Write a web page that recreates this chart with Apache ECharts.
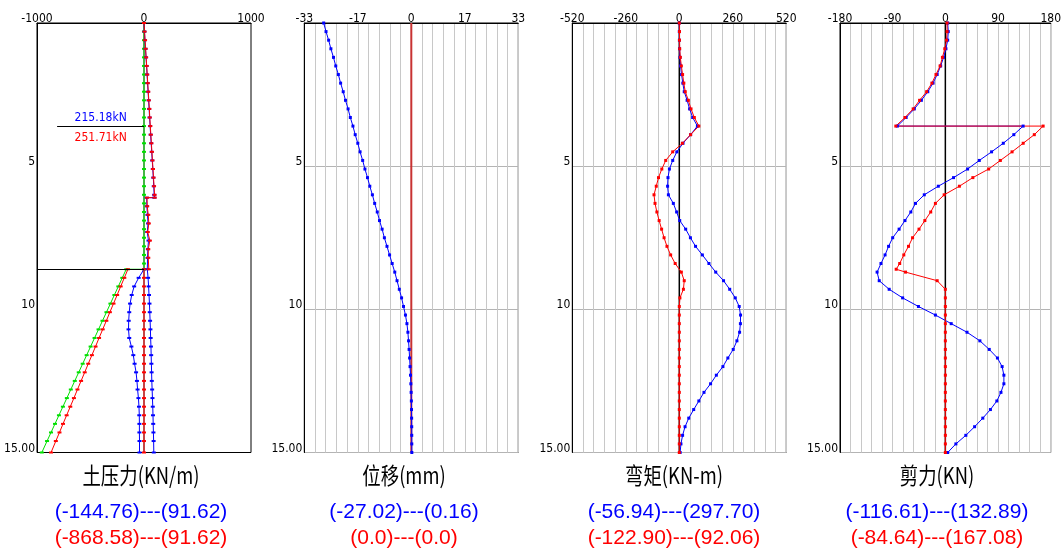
<!DOCTYPE html>
<html><head><meta charset="utf-8">
<script src="https://cdn.jsdelivr.net/npm/echarts@6/dist/echarts.min.js"></script>
<style>html,body{margin:0;padding:0;background:#fff}#c{width:1064px;height:551px}</style>
</head><body><div id="c"></div>
<script>
// ---------- depth lists (m) ----------
const D03 = [0,0.3,0.6,0.9,1.2,1.5,1.8,2.1,2.4,2.7,3.0,3.3,3.6,3.9,4.2,4.5,4.8,5.1,5.4,5.7,6.0,6.3,6.6,6.9,7.2,7.5,7.8,8.1,8.4,8.7,9.0,9.3,9.6,9.9,10.2,10.5,10.8,11.1,11.4,11.7,12.0,12.3,12.6,12.9,13.2,13.5,13.8,14.1,14.4,14.7,15.0];
const LOW_D = [8.6,8.9,9.2,9.5,9.8,10.1,10.4,10.7,11.0,11.3,11.6,11.9,12.2,12.5,12.8,13.1,13.4,13.7,14.0,14.3,14.6,15.0];
const EXC_DEPTH = 8.6;
const STRUT_DEPTH = 3.6;
const STRUT_LINE_START = -810;

// ---------- panel 1: earth pressure (KN/m) ----------
const EP_GREEN_D = [0,0.3,0.6,0.9,1.2,1.5,1.8,2.1,2.4,2.7,3.0,3.3,3.6,3.9,4.2,4.5,4.8,5.1,5.4,5.7,6.0,6.3,6.6,6.9,7.2,7.5,7.8,8.1,8.4,8.6].concat(LOW_D);
const EP_GREEN_V = [0,0,0,0,0,0,0,0,0,0,0,0,0,0,0,0,0,0,0,0,0,0,0,0,0,0,0,0,0,0,
  -166,-203,-240,-277,-314,-351,-388,-425,-462,-499,-536,-573,-610,-647,-684,-721,-758,-795,-832,-869,-906,-955];
const EP_REDP_V = [-150,-184,-218,-251,-285,-319,-352,-386,-420,-453,-487,-521,-554,-588,-622,-655,-689,-723,-757,-790,-824,-868.58];
const EP_BLUEL_V = [0,-50,-92,-115,-130,-138,-143,-144.76,-138,-118,-100,-88,-74,-66,-60,-52,-47,-44,-43,-43,-42,-42];
const UP_D = [0,0.3,0.6,0.9,1.2,1.5,1.8,2.1,2.4,2.7,3.0,3.3,3.6,3.9,4.2,4.5,4.8,5.1,5.4,5.7,6.0,6.1,6.1,6.4,6.7,7.0,7.3,7.6,7.9,8.2];
const EP_BLUER_D = UP_D.concat(LOW_D);
const EP_BLUER_V = [0,4,9,14,19,24,29,33,38,43,48,52,57,62,67,72,77,82,87,91,95,97,25,27,32,38,30,42,36,33,
  31,38,43,47,51,54,57,60,62,65,67,69,71,73,76,79,82,84,86,88,90,91.62];
const EP_REDR_D = UP_D.concat([8.6,8.6]).concat(LOW_D.slice(1));
const EP_REDR_V = [0,5,10,15,20,25,30,35,40,45,50,54,59,64,69,74,79,84,89,94,99,100,28,30,40,45,35,55,40,40,45,0,
  0,0,0,0,0,0,0,0,0,0,0,0,0,0,0,0,0,0,0,0,0];

// ---------- panel 2: displacement (mm) ----------
const DISP_BLUE = [-27.02,-26.3,-25.5,-24.8,-24.0,-23.3,-22.5,-21.8,-21.0,-20.3,-19.5,-18.8,-18.0,-17.3,-16.5,-15.8,-15.0,-14.3,-13.5,-12.8,
  -12.0,-11.3,-10.5,-9.8,-9.0,-8.3,-7.5,-6.7,-5.9,-5.1,-4.4,-3.7,-3.0,-2.4,-1.8,-1.35,-1.05,-0.85,-0.68,-0.52,
  -0.38,-0.25,-0.14,-0.05,0.02,0.07,0.10,0.13,0.14,0.15,0.16];
const DISP_RED_D = [0,15];
const DISP_RED = [0,0];

// ---------- panel 3: moment (KN-m) ----------
const MOM_BLUE = [0,0,0.5,1,3,6,11,17,24,38,50,65,88,55,18,-12,-32,-48,-55,-56.94,-53,-29,-13,2,31,54,79,112,144,177,
  215,245,272,291,297.7,297,293,280,262,236,212,180,152,120,95,70,46,28,16,8,4];
const MOM_RED = [0,1,1,2,5,10,16,22,29,44,57,73,95,55,15,-32,-66,-85,-101,-112,-122.9,-118,-109,-98,-86,-74,-60,-42,-20,10,
  24,20,3,0,0,0,0,0,0,0,0,0,0,0,0,0,0,0,0,0,0];

// ---------- panel 4: shear (KN) ----------
const SH_BLUE_D = [0,0.3,0.6,0.9,1.2,1.5,1.8,2.1,2.4,2.7,3.0,3.3,3.6,3.6,3.9,4.2,4.5,4.8,5.1,5.4,5.7,6.0,6.3,6.6,6.9,7.2,7.5,7.8,8.1,8.4,8.7,9.0,9.3,9.6,9.9,10.2,10.5,10.8,11.1,11.4,11.7,12.0,12.3,12.6,12.9,13.2,13.5,13.8,14.1,14.4,14.7,15.0];
const SH_BLUE = [4,5,4,1,-3,-8,-14,-21,-30,-41,-53,-67,-82,132.89,117,99,79,58,38,14,-12,-36,-51,-59,-69,-79,-90,-97,-103,-110,-116.61,
  -113,-96,-73,-46,-17,10,37,59,75,89,97,100,100,95,88,77,64,50,35,18,4];
const SH_RED_D = [0,0.3,0.6,0.9,1.2,1.5,1.8,2.1,2.4,2.7,3.0,3.3,3.6,3.6,3.9,4.2,4.5,4.8,5.1,5.4,5.7,6.0,6.3,6.6,6.9,7.2,7.5,7.8,8.1,8.4,8.6,8.7,9.0,9.3,9.6,9.9,10.2,10.5,10.8,11.1,11.4,11.7,12.0,12.3,12.6,12.9,13.2,13.5,13.8,14.1,14.4,14.7,15.0];
const SH_RED = [3,3,2,-1,-5,-9,-16,-23,-32,-44,-55,-69,-84.64,167.08,152,133,114,94,74,47,24,-2,-17,-25,-35,-45,-56,-63,-71,-78,-84,-68,-14,0,
  0,0,0,0,0,0,0,0,0,0,0,0,0,0,0,0,0,0,0];

// ---------- axis ticks & texts ----------
const X_TICKS = [[-1000,0,1000],[-33,-16.5,0,16.5,33],[-520,-260,0,260,520],[-180,-90,0,90,180]];
const X_TEXTS = [['-1000','0','1000'],['-33','-17','0','17','33'],['-520','-260','0','260','520'],['-180','-90','0','90','180']];
const X_RANGE = [[-1000,1000,1000],[-33,33,3.3],[-520,520,52],[-180,180,18]];
const Y_TICKS = [5,10,15];
const Y_TEXTS = ['5','10','15.00'];
const TITLES = ['土压力(KN/m)','位移(mm)','弯矩(KN-m)','剪力(KN)'];
const BLUE_RANGE = ['(-144.76)---(91.62)','(-27.02)---(0.16)','(-56.94)---(297.70)','(-116.61)---(132.89)'];
const RED_RANGE = ['(-868.58)---(91.62)','(0.0)---(0.0)','(-122.90)---(92.06)','(-84.64)---(167.08)'];
const STRUT_LABELS = ['215.18kN','251.71kN'];

// ---------- layout ----------
const GRID_LEFT = [37, 304.3, 572.3, 840];
const GRID_W = 214, GRID_TOP = 23, GRID_H = 429.5;
const TEXT_CX = [141, 404, 674, 937];
const NUMFONT = "'Liberation Sans Narrow','DejaVu Sans Condensed','Liberation Sans',sans-serif";

const BLUE = '#0000ff', RED = '#ff0000', GREEN = '#00e000';

const grids = [], xAxes = [], yAxes = [], series = [], graphics = [];
for (let g = 0; g < 4; g++) {
  grids.push({left: GRID_LEFT[g], top: GRID_TOP, width: GRID_W, height: GRID_H, show: true,
    borderColor: '#000', borderWidth: 1, backgroundColor: 'transparent', containLabel: false});
  const [mn, mx, iv] = X_RANGE[g];
  xAxes.push({type: 'value', gridIndex: g, position: 'top', min: mn, max: mx, interval: iv,
    axisLine: {show: true, onZero: false, lineStyle: {color: '#000', width: 1}},
    axisTick: {show: false},
    axisLabel: {show: true, margin: -2, color: '#000', fontSize: 12, fontFamily: NUMFONT,
      showMinLabel: true, showMaxLabel: true, hideOverlap: false,
      formatter: (v) => { for (let i = 0; i < X_TICKS[g].length; i++) if (Math.abs(v - X_TICKS[g][i]) < iv / 10) return X_TEXTS[g][i]; return ''; }},
    splitLine: {show: g > 0, lineStyle: {color: '#c8c8c8', width: 1}}
  });
  yAxes.push({type: 'value', gridIndex: g, inverse: true, min: 0, max: 15, interval: 5,
    axisLine: {show: true, onZero: false, lineStyle: {color: '#000', width: 1}},
    axisTick: {show: false},
    axisLabel: {show: true, margin: 2, color: '#000', fontSize: 12, fontFamily: NUMFONT, verticalAlign: 'bottom', lineHeight: 8,
      showMinLabel: true, showMaxLabel: true,
      formatter: (v) => { const i = Y_TICKS.indexOf(v); return i >= 0 ? Y_TEXTS[i] : ''; }},
    splitLine: {show: g > 0, lineStyle: {color: '#b4b4b4', width: 1}}
  });
  graphics.push({type: 'text', x: TEXT_CX[g], y: 475, scaleX: 0.8, silent: true,
    style: {text: TITLES[g], fill: '#000', font: "23px 'Noto Sans CJK SC'", align: 'center', verticalAlign: 'middle'}});
  graphics.push({type: 'text', x: TEXT_CX[g], y: 512, silent: true,
    style: {text: BLUE_RANGE[g], fill: BLUE, font: "21px 'Liberation Sans'", align: 'center', verticalAlign: 'middle'}});
  graphics.push({type: 'text', x: TEXT_CX[g], y: 538, silent: true,
    style: {text: RED_RANGE[g], fill: RED, font: "21px 'Liberation Sans'", align: 'center', verticalAlign: 'middle'}});
}

function ln(g, vals, deps, color, extra) {
  return Object.assign({type: 'line', xAxisIndex: g, yAxisIndex: g,
    data: vals.map((v, i) => [v, deps[i]]),
    symbol: 'rect', symbolSize: g === 0 ? [4, 2] : [3, 3], showSymbol: true,
    lineStyle: {color: color, width: 1}, itemStyle: {color: color},
    silent: true, clip: false, z: 3}, extra || {});
}

// panel 1
series.push(ln(0, [0, 0], [0, 15], '#8a8a8a', {symbol: 'none', lineStyle: {color: '#8a8a8a', width: 2}, z: 2,
  markLine: {silent: true, symbol: 'none', animation: false,
    lineStyle: {color: '#000', width: 1, type: 'solid'},
    label: {show: false},
    data: [
      [{coord: [-1000, EXC_DEPTH]}, {coord: [0, EXC_DEPTH]}],
      [{coord: [STRUT_LINE_START, STRUT_DEPTH], label: {show: true, position: 'insideMiddleTop', distance: 2, formatter: STRUT_LABELS[0], color: BLUE, fontSize: 12, fontFamily: NUMFONT}}, {coord: [0, STRUT_DEPTH]}],
      [{coord: [STRUT_LINE_START, STRUT_DEPTH], label: {show: true, position: 'insideMiddleBottom', distance: 6, formatter: STRUT_LABELS[1], color: RED, fontSize: 12, fontFamily: NUMFONT}}, {coord: [0, STRUT_DEPTH]}]
    ]}}));
series.push(ln(0, EP_GREEN_V, EP_GREEN_D, GREEN));
series.push(ln(0, EP_BLUEL_V, LOW_D, BLUE));
series.push(ln(0, EP_BLUER_V, EP_BLUER_D, BLUE));
series.push(ln(0, EP_REDP_V, LOW_D, RED));
series.push(ln(0, EP_REDR_V, EP_REDR_D, RED));

// panel 2
series.push(ln(1, DISP_RED, DISP_RED_D, '#c83232', {symbol: 'none', lineStyle: {color: '#c83232', width: 2}, z: 2}));
series.push(ln(1, DISP_BLUE, D03, BLUE));

// panel 3
series.push(ln(2, [0, 0], [0, 15], '#000', {symbol: 'none', lineStyle: {color: '#000', width: 1.5}, z: 2}));
series.push(ln(2, MOM_BLUE, D03, BLUE));
series.push(ln(2, MOM_RED, D03, RED));

// panel 4
series.push(ln(3, [0, 0], [0, 15], '#000', {symbol: 'none', lineStyle: {color: '#000', width: 1.5}, z: 2}));
series.push(ln(3, SH_BLUE, SH_BLUE_D, BLUE));
series.push(ln(3, SH_RED, SH_RED_D, RED));

const chart = echarts.init(document.getElementById('c'), null, {renderer: 'canvas'});
chart.setOption({
  animation: false,
  backgroundColor: '#fff',
  grid: grids, xAxis: xAxes, yAxis: yAxes, series: series,
  graphic: graphics
});
</script></body></html>
